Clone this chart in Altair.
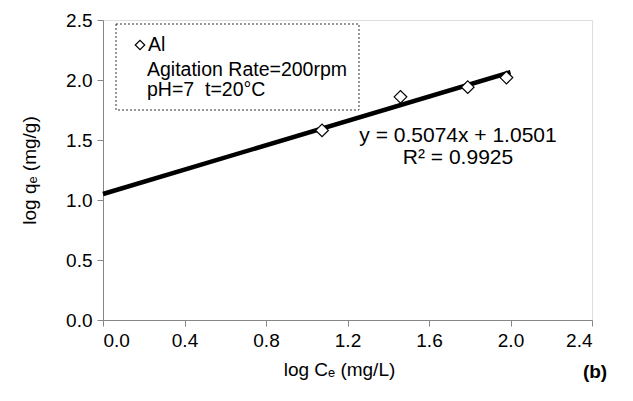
import altair as alt
import pandas as pd

# Data
log_ce = [1.075, 1.46, 1.79, 1.98]
log_qe = [1.58, 1.86, 1.94, 2.02]
slope = 0.5074
intercept = 1.0501
fit_x = [0.0, 2.0]
x_ticks = [0.0, 0.4, 0.8, 1.2, 1.6, 2.0, 2.4]
y_ticks = [0.0, 0.5, 1.0, 1.5, 2.0, 2.5]

FONT = "Liberation Sans"
FS = 19

pts = pd.DataFrame({"x": log_ce, "y": log_qe})
fit = pd.DataFrame({"x": fit_x, "y": [slope * v + intercept for v in fit_x]})

xs = alt.Scale(domain=[0, 2.4], nice=False, zero=False)
ys = alt.Scale(domain=[0, 2.5], nice=False, zero=False)

common = dict(format=".1f", tickSize=6, grid=False, domainColor="#868686",
              tickColor="#868686", labelColor="black", titleColor="black",
              labelFont=FONT, titleFont=FONT, labelFontSize=FS, titleFontSize=FS,
              titleFontWeight="normal")
x_axis = alt.Axis(values=x_ticks, title="log Cₑ (mg/L)", labelPadding=5,
                  titlePadding=10, titleX=236, **common)
y_axis = alt.Axis(values=y_ticks, title="log qₑ (mg/g)", labelPadding=5,
                  titlePadding=26, **common)

line = alt.Chart(fit).mark_line(color="black", strokeWidth=4.5).encode(
    x=alt.X("x:Q", scale=xs, axis=x_axis),
    y=alt.Y("y:Q", scale=ys, axis=y_axis),
)

points = alt.Chart(pts).mark_point(shape="diamond", filled=True, fill="white",
                                   stroke="black", strokeWidth=1.2, size=160, opacity=1).encode(
    x=alt.X("x:Q", scale=xs),
    y=alt.Y("y:Q", scale=ys),
)

anno = pd.DataFrame({"a": [0]})
base = alt.Chart(anno)

eq1 = base.mark_text(text="y = 0.5074x + 1.0501", font=FONT, fontSize=21,
                     align="center", baseline="middle", color="black").encode(
    x=alt.value(355), y=alt.value(116))
eq2 = base.mark_text(text="R² = 0.9925", font=FONT, fontSize=21,
                     align="center", baseline="middle", color="black").encode(
    x=alt.value(355), y=alt.value(138))

box = base.mark_rect(fill="white", stroke="#333333", strokeWidth=1,
                     strokeDash=[2, 2]).encode(
    x=alt.value(13), x2=alt.value(256), y=alt.value(4), y2=alt.value(90))

leg_marker = base.mark_point(shape="diamond", filled=True, fill="white",
                             stroke="black", strokeWidth=1.2, size=90, opacity=1).encode(
    x=alt.value(37), y=alt.value(25))
leg1 = base.mark_text(text="Al", font=FONT, fontSize=19.5, align="left",
                      baseline="middle", color="black").encode(
    x=alt.value(45), y=alt.value(25))
leg2 = base.mark_text(text="Agitation Rate=200rpm", font=FONT, fontSize=19.5, align="left",
                      baseline="middle", color="black").encode(
    x=alt.value(44), y=alt.value(50))
leg3 = base.mark_text(text="pH=7\u00a0 t=20°C", font=FONT, fontSize=19.5, align="left",
                      baseline="middle", color="black").encode(
    x=alt.value(44), y=alt.value(70))

tag = base.mark_text(text="(b)", font=FONT, fontSize=FS, fontWeight="bold",
                     align="center", baseline="middle", color="black").encode(
    x=alt.value(492), y=alt.value(352))

chart = alt.layer(box, leg_marker, leg1, leg2, leg3, line, points, eq1, eq2, tag).properties(
    width=489, height=300,
    autosize=alt.AutoSizeParams(type="none"),
    padding={"left": 95, "top": 12, "right": 30, "bottom": 70},
).configure_view(stroke=None).configure(background="white")

chart.save("out.html", embed_options={"renderer": "svg", "actions": False})
